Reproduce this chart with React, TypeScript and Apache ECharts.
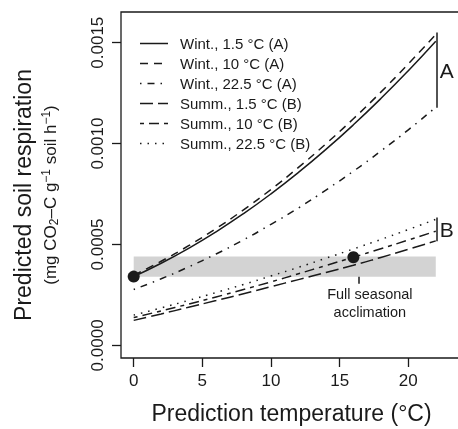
import React, { useEffect, useRef } from "react";
import * as echarts from "echarts";

const temps = [0, 2, 4, 6, 8, 10, 12, 14, 16, 18, 20, 22];
const wint15 = [0.000341, 0.000407, 0.000481, 0.000563, 0.000653, 0.000751, 0.000857, 0.000971, 0.001093, 0.001223, 0.001361, 0.001507];
const wint10 = [0.000348, 0.000417, 0.000494, 0.000579, 0.000672, 0.000773, 0.000882, 0.000999, 0.001123, 0.001255, 0.001395, 0.00154];
const wint225 = [0.000277, 0.00033, 0.000389, 0.000453, 0.000523, 0.0006, 0.000681, 0.00077, 0.000863, 0.000963, 0.001068, 0.00118];
const summ15 = [0.000124, 0.000156, 0.000189, 0.000222, 0.000256, 0.000291, 0.000326, 0.000361, 0.000397, 0.000436, 0.000476, 0.000518];
const summ10 = [0.000138, 0.000171, 0.000205, 0.00024, 0.000277, 0.000315, 0.000355, 0.000396, 0.000437, 0.000479, 0.000522, 0.000566];
const summ225 = [0.00015, 0.000186, 0.000223, 0.000262, 0.000302, 0.000344, 0.000387, 0.000432, 0.000478, 0.000525, 0.000574, 0.000625];

const seriesNames = [
  "Wint., 1.5 °C (A)",
  "Wint., 10 °C (A)",
  "Wint., 22.5 °C (A)",
  "Summ., 1.5 °C (B)",
  "Summ., 10 °C (B)",
  "Summ., 22.5 °C (B)",
];
const seriesValues = [wint15, wint10, wint225, summ15, summ10, summ225];
const dashes: (number[] | null)[] = [null, [8, 6], [1.5, 6, 7, 6], [13, 5], [4, 5, 10, 5], [1.5, 6]];

const xTicks = [0, 5, 10, 15, 20];
const yTicks = [0, 0.0005, 0.001, 0.0015];

const dotPoints = [
  [0, 0.000341],
  [16, 0.000437],
];
const bandRange = { x0: 0, x1: 22, y0: 0.00034, y1: 0.00044 };
const bracketA = { x: 22.07, y0: 0.00155, y1: 0.001177, label: "A" };
const bracketB = { x: 22.07, y0: 0.000634, y1: 0.000516, label: "B" };
const acclimTick = { x: 16.4, y0: 0.00034, y1: 0.000306 };
const acclimText = { x: 17.2, y: 0.00021, text: "Full seasonal\nacclimation" };

const FONT = "Liberation Sans, Arial, Helvetica, sans-serif";
const INK = "#1a1a1a";

export default function App() {
  const ref = useRef<HTMLDivElement>(null);
  useEffect(() => {
    if (!ref.current) return;
    const chart = echarts.init(ref.current, undefined, { renderer: "svg" });

    const lineSeries = seriesNames.map((name, i) => ({
      name,
      type: "line",
      smooth: true,
      symbol: "none",
      z: 2,
      data: temps.map((t, k) => [t, seriesValues[i][k]]),
      lineStyle: {
        color: INK,
        width: 1.5,
        type: dashes[i] ? dashes[i] : "solid",
      },
    }));

    const legendGraphics: any[] = [];
    seriesNames.forEach((name, i) => {
      const y = 43.5 + 20 * i;
      legendGraphics.push({
        type: "line",
        shape: { x1: 140, y1: y, x2: 168, y2: y },
        style: { stroke: INK, lineWidth: 1.5, lineDash: dashes[i] ? dashes[i] : null },
      });
      legendGraphics.push({
        type: "text",
        x: 180,
        y,
        style: { text: name, font: `15px ${FONT}`, fill: INK, textAlign: "left", textVerticalAlign: "middle" },
      });
    });

    const option: any = {
      animation: false,
      textStyle: { fontFamily: FONT },
      grid: {
        left: 121,
        top: 12,
        right: 4,
        bottom: 68,
        show: true,
        borderColor: INK,
        borderWidth: 1.3,
        backgroundColor: "transparent",
      },
      xAxis: {
        type: "value",
        min: -0.925,
        max: 23.91,
        splitLine: { show: false },
        axisLine: { show: false, onZero: false },
        axisTick: { show: true, inside: false, length: 9, lineStyle: { color: INK, width: 1.3 }, customValues: xTicks },
        axisLabel: { fontSize: 17, color: INK, margin: 14, fontFamily: FONT, customValues: xTicks },
        name: "Prediction temperature (°C)",
        nameLocation: "middle",
        nameGap: 43,
        nameTextStyle: { fontSize: 23, color: INK, fontFamily: FONT },
      },
      yAxis: {
        type: "value",
        min: -0.0000624,
        max: 0.001652,
        splitLine: { show: false },
        axisLine: { show: false, onZero: false },
        axisTick: { show: true, inside: false, length: 9, lineStyle: { color: INK, width: 1.3 }, customValues: yTicks },
        axisLabel: {
          fontSize: 17,
          color: INK,
          margin: 15,
          rotate: 90,
          fontFamily: FONT,
          customValues: yTicks,
          formatter: (v: number) => v.toFixed(4),
        },
      },
      graphic: [
        {
          type: "text",
          x: 23,
          y: 195,
          rotation: Math.PI / 2,
          style: {
            text: "Predicted soil respiration",
            font: `23px ${FONT}`,
            fill: INK,
            textAlign: "center",
            textVerticalAlign: "middle",
          },
        },
        {
          type: "text",
          x: 50,
          y: 195,
          rotation: Math.PI / 2,
          style: {
            text: "{a|(mg CO}{s|2}{a|–C g}{p|−1}{a| soil h}{p|−1}{a|)}",
            fill: INK,
            textAlign: "center",
            textVerticalAlign: "middle",
            rich: {
              a: { fontSize: 17, fontFamily: FONT, fill: INK, lineHeight: 20 },
              s: { fontSize: 12, fontFamily: FONT, fill: INK, lineHeight: 12, verticalAlign: "bottom" },
              p: { fontSize: 12, fontFamily: FONT, fill: INK, lineHeight: 10, verticalAlign: "top" },
            },
          },
        },
        ...legendGraphics,
      ],
      series: [
        {
          name: "band",
          type: "line",
          data: [],
          z: 1,
          silent: true,
          markArea: {
            silent: true,
            itemStyle: { color: "#d3d3d3" },
            data: [[{ xAxis: bandRange.x0, yAxis: bandRange.y0 }, { xAxis: bandRange.x1, yAxis: bandRange.y1 }]],
          },
        },
        ...lineSeries,
        {
          name: "dots",
          type: "scatter",
          z: 3,
          symbolSize: 12,
          itemStyle: { color: INK, opacity: 1 },
          data: dotPoints,
        },
        {
          name: "annot",
          type: "scatter",
          z: 3,
          data: [],
          markLine: {
            silent: true,
            symbol: ["none", "none"],
            lineStyle: { color: INK, width: 1.5, type: "solid" },
            label: { show: false },
            data: [
              [{ coord: [bracketA.x, bracketA.y0] }, { coord: [bracketA.x, bracketA.y1] }],
              [{ coord: [bracketB.x, bracketB.y0] }, { coord: [bracketB.x, bracketB.y1] }],
              [{ coord: [acclimTick.x, acclimTick.y0] }, { coord: [acclimTick.x, acclimTick.y1] }],
            ],
          },
          markPoint: {
            silent: true,
            symbol: "circle",
            symbolSize: 0,
            data: [
              {
                coord: [bracketA.x, (bracketA.y0 + bracketA.y1) / 2],
                label: { show: true, position: "right", distance: 3, formatter: bracketA.label, fontSize: 21, color: INK, fontFamily: FONT },
              },
              {
                coord: [bracketB.x, (bracketB.y0 + bracketB.y1) / 2],
                label: { show: true, position: "right", distance: 3, formatter: bracketB.label, fontSize: 21, color: INK, fontFamily: FONT },
              },
              {
                coord: [acclimText.x, acclimText.y],
                label: {
                  show: true,
                  position: "inside",
                  formatter: acclimText.text,
                  fontSize: 14.5,
                  lineHeight: 18,
                  color: INK,
                  fontFamily: FONT,
                  align: "center",
                },
              },
            ],
          },
        },
      ],
    };
    chart.setOption(option);
    return () => chart.dispose();
  }, []);
  return <div ref={ref} style={{ position: "fixed", left: 0, top: 0, width: 466, height: 429 }} />;
}
